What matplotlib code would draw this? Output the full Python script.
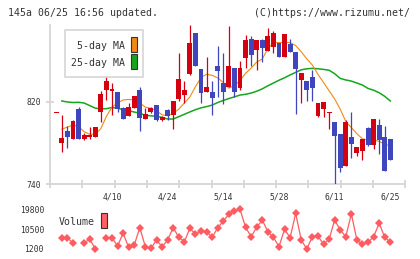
import numpy as np
import matplotlib
matplotlib.use("Agg")
import matplotlib.pyplot as plt
from matplotlib.patches import Rectangle
import matplotlib.transforms as mtransforms

# daily candles, oldest first (last one is 6/25)
opens = [809, 780, 792, 784, 813, 784, 786, 786, 810, 832,
         831, 830, 814, 806, 814, 832, 803, 810, 817, 802,
         812, 807, 823, 827, 847, 887, 852, 830, 830, 855,
         838.5, 835, 853, 834, 863, 881, 871, 880.5, 870, 874,
         877.6, 864, 876.6, 869, 841, 840.5, 844, 806, 813, 809.7,
         800.5, 789, 758, 786, 770.5, 772.5, 794.6, 778, 797.6, 786,
         784]
highs = [809, 807, 797, 802, 815, 790, 796, 796, 831, 845,
         839, 830, 815, 819, 826, 835, 814, 815, 817, 806,
         813, 821, 868, 840, 895, 887, 852, 864, 840, 875,
         868, 894, 853, 860, 885, 884, 880.5, 881.5, 892, 889,
         878, 886, 881.5, 869, 848, 840.5, 851, 819, 820, 810.5,
         800.5, 789, 802, 810, 776, 784, 796, 803, 803, 797,
         784]
lows = [809, 771, 775, 784, 784, 783, 784, 786, 800, 822,
        807, 810, 803, 806, 814, 792, 803, 809, 801, 801,
        802, 794, 821, 819, 846, 855, 819, 830, 807, 825,
        818, 835, 825, 832, 853, 855, 851, 859, 870, 868,
        864, 864, 869, 808, 819, 821, 821, 805, 805, 794,
        739.5, 752, 758, 765, 767, 763, 777, 774.5, 769, 753,
        763]
closes = [809, 785, 786, 801.5, 784, 788, 788, 796, 828, 840.5,
          833, 813, 803, 815, 826, 804, 808, 814, 802, 805,
          806, 821, 842, 832, 878, 855, 829, 835, 824, 850,
          830, 855, 830, 853, 880.5, 866, 880.5, 873, 884, 887,
          864.3, 886, 869, 852.5, 848, 832, 834, 819, 820, 810.5,
          787, 756, 800.5, 779, 776, 784, 778, 803, 783, 753,
          763]

ma5 = [np.nan, 793.5, 795.5, 797.6, 796, 791, 788.5, 788.5, 794, 806,
       815, 819, 822, 822.5, 822, 819, 815, 813.8, 811.5, 807.5,
       806.6, 809, 813, 819, 825, 835, 844, 847, 846, 843.5,
       839, 833.5, 836, 841, 848, 853, 859, 862, 872, 878,
       878, 878, 878, 875, 869, 862, 856, 847, 839, 831,
       823, 813, 801, 795, 789, 784, 783, 783, 781.5, 779,
       777]
ma25 = [np.nan, 821, 820, 819.5, 819.7, 819, 816.5, 814, 813.3, 813.5,
        814.6, 814, 812.5, 811.5, 810.2, 809, 807, 806.5, 806, 805,
        803.4, 803.4, 805.7, 808, 810.3, 812.5, 814.3, 815.5, 817, 819.5,
        821.5, 823.4, 825, 826.8, 827.5, 828.7, 830.5, 832.8, 835.8, 838.5,
        841.2, 843.6, 846.4, 848.9, 851.4, 852.4, 852.8, 852.4, 851.8, 851,
        847.6, 843, 841.5, 840.4, 838.5, 836.5, 833.2, 831.5, 829, 825.5,
        821]

volume = [np.nan, 6500, 6500, 3870, np.nan, 4150, 5740, 1300, np.nan, 6500,
          6500, 2600, 8550, 2000, 3070, 11180, 2280, 1530, 5420, 2280,
          5420, 11180, 6680, 4620, 10900, 8090, 9770, 9300, 6680, 11180,
          14320, 17460, 19000, 19800, 11360, 6980, 11360, 14790, 9300, 6680,
          2280, 10430, 6500, 17920, 5420, 1200, 6980, 7290, 3400, 5740,
          14790, 10100, 6980, 17600, 5420, 3400, 4340, 6980, 13240, 6680,
          4340]

date_labels = ["4/10", "4/24", "5/14", "5/28", "6/11", "6/25"]
date_idx = [10, 20, 30, 40, 50, 60]

W, H = 420, 259
RED = "#d40010"
BLUE = "#3f45bd"
GRID = "#d6d6d6"
TXT = "#333333"
MONO = "DejaVu Sans Mono"


def box(x0, y0, x1, y1):
    # pixel box -> figure fraction rect
    return [x0 / W, 1 - y1 / H, (x1 - x0) / W, (y1 - y0) / H]


fig = plt.figure(figsize=(W / 100, H / 100), dpi=100)
ax = fig.add_axes(box(50, 24.7, 405.3, 184))
axv = fig.add_axes(box(50, 209.3, 405.3, 249))

x = np.arange(len(opens))
o = np.array(opens)
c = np.array(closes)
colors = [RED if cc >= oo else BLUE for oo, cc in zip(o, c)]

# moving averages under the candles
ax.plot(x, ma25, color="#16a51e", lw=1.1, zorder=2)
ax.plot(x, ma5, color="#f08a14", lw=0.8, zorder=2)

ax.vlines(x, lows, highs, colors=colors, lw=0.9, zorder=3)
body_h = np.maximum(np.abs(c - o), 0.9)
ax.bar(x, body_h, bottom=np.minimum(o, c), width=0.88, color=colors, zorder=4)

ax.set_xlim(-1.13, 62.69)
ax.set_ylim(740, 895.4)
for s in ["top", "right"]:
    ax.spines[s].set_visible(False)
for s in ["left", "bottom"]:
    ax.spines[s].set_color(GRID)
    ax.spines[s].set_linewidth(1.3)
ax.set_xticks(np.linspace(-1.13, 62.69, 12))
ax.set_xticklabels([])
ax.set_yticks([740, 820])
ax.set_yticklabels(["740", "820"], family=MONO, fontsize=5.8, color=TXT)
ax.tick_params(direction="inout", length=5.8, width=1.3, color=GRID, pad=3.5)

trans = mtransforms.blended_transform_factory(ax.transData, fig.transFigure)
for i, lab in zip(date_idx, date_labels):
    ax.text(i, 1 - 197.3 / H, lab, transform=trans, ha="center", va="center",
            family=MONO, fontsize=5.8, color=TXT)

# volume panel
axv.plot(x, volume, color="#ff5c62", lw=0.9, marker="D", ms=3.8,
         markeredgewidth=0, clip_on=False)
axv.set_xlim(-1.13, 62.69)
axv.set_ylim(1200, 19800)
for s in axv.spines.values():
    s.set_visible(False)
axv.set_xticks([])
axv.set_yticks([1200, 10500, 19800])
axv.set_yticklabels(["1200", "10500", "19800"], family=MONO, fontsize=5.8, color=TXT)
axv.tick_params(length=0, pad=4.3)
axv.patch.set_alpha(0)

# header texts
fig.text(8.3 / W, 1 - 12.7 / H, "145a 06/25 16:56 updated.", ha="left", va="center",
         family=MONO, fontsize=7.1, color=TXT)
fig.text(410 / W, 1 - 12.7 / H, "(C)https://www.rizumu.net/", ha="right", va="center",
         family=MONO, fontsize=7.1, color=TXT)

# legend box for the moving averages
fig.add_artist(Rectangle((65.3 / W, 1 - 77.3 / H), 78 / W, 47.3 / H,
                         transform=fig.transFigure, facecolor="white",
                         edgecolor=GRID, lw=1.2))
fig.text(125 / W, 1 - 46 / H, "5-day MA", ha="right", va="center",
         family=MONO, fontsize=7.1, color=TXT)
fig.text(125 / W, 1 - 63.3 / H, "25-day MA", ha="right", va="center",
         family=MONO, fontsize=7.1, color=TXT)
fig.add_artist(Rectangle((131 / W, 1 - 52.3 / H), 6.3 / W, 15 / H,
                         transform=fig.transFigure, facecolor="#f08a14",
                         edgecolor="#333333", lw=0.8))
fig.add_artist(Rectangle((131 / W, 1 - 69.3 / H), 6.3 / W, 15.3 / H,
                         transform=fig.transFigure, facecolor="#16a51e",
                         edgecolor="#333333", lw=0.8))

# volume legend
fig.text(59 / W, 1 - 222.3 / H, "Volume", ha="left", va="center",
         family=MONO, fontsize=7.1, color=TXT)
fig.add_artist(Rectangle((101 / W, 1 - 228.3 / H), 6.3 / W, 15.6 / H,
                         transform=fig.transFigure, facecolor="#ff6064",
                         edgecolor="#333333", lw=0.8))

fig.savefig("out.png", dpi=100)
